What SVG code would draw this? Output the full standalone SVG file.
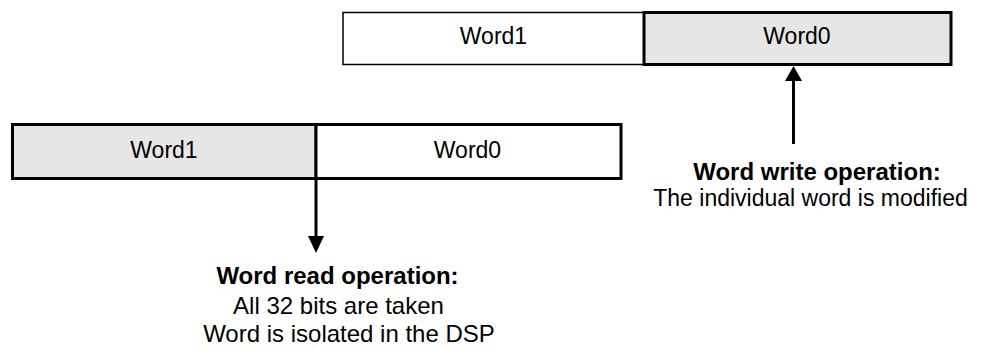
<svg xmlns="http://www.w3.org/2000/svg" width="985" height="348" viewBox="0 0 985 348">
<style>
.lbl{font-family:"Liberation Sans",Arial,sans-serif;font-size:23px;fill:#000;text-anchor:middle}
.b{font-weight:bold;font-size:24px}
.r24{font-size:24px}
.thin{stroke:#000;stroke-width:1.5}
.thick{stroke:#000;stroke-width:3}
.grey{fill:#e6e6e6}
.white{fill:#fff}
</style>
<rect width="985" height="348" fill="#fff"/>
<g id="top-word1">
<rect class="white thin" x="343" y="12.5" width="301" height="52"/>
<text class="lbl" x="493.5" y="44">Word1</text>
</g>
<g id="top-word0">
<rect class="grey thick" x="644" y="12.5" width="307" height="52"/>
<text class="lbl" x="797" y="44">Word0</text>
</g>
<g id="bottom-word1">
<rect class="grey thick" x="12.5" y="124.5" width="303.5" height="54"/>
<text class="lbl" x="164" y="158">Word1</text>
</g>
<g id="bottom-word0">
<rect class="white thick" x="316" y="124.5" width="305" height="54"/>
<line class="thin" x1="316" y1="124.5" x2="316" y2="178.5"/>
<text class="lbl" x="467.5" y="158">Word0</text>
</g>
<g id="connectors">
<line class="thick" x1="316" y1="178" x2="316" y2="238"/>
<polygon points="308,236 324,236 316,253" fill="#000"/>
<line class="thick" x1="793.5" y1="80" x2="793.5" y2="144"/>
<polygon points="785,81 802,81 793.5,66" fill="#000"/>
</g>
<g id="write-label">
<text class="lbl b" x="817" y="180">Word write operation:</text>
<text class="lbl" x="810.5" y="206">The individual word is modified</text>
</g>
<g id="read-label">
<text class="lbl b" x="337.5" y="283.5">Word read operation:</text>
<text class="lbl r24" x="338.5" y="313.5">All 32 bits are taken</text>
<text class="lbl r24" x="349" y="342">Word is isolated in the DSP</text>
</g>
</svg>
